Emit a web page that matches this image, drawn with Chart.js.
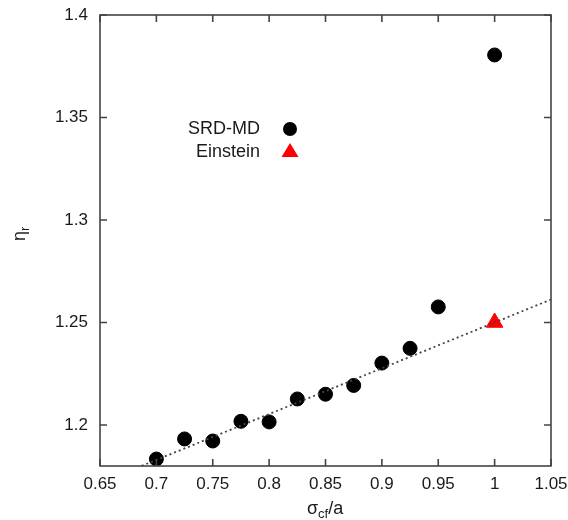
<!DOCTYPE html>
<html>
<head>
<meta charset="utf-8">
<script src="https://cdn.jsdelivr.net/npm/chart.js@4/dist/chart.umd.min.js"></script>
<style>
  html, body { margin: 0; padding: 0; background: #fff; }
  #wrap { width: 568px; height: 520px; }
</style>
</head>
<body>
<div id="wrap"><canvas id="myChart" width="568" height="520"></canvas></div>
<script>
// data
var sigmaRatio = [0.7, 0.725, 0.75, 0.775, 0.8, 0.825, 0.85, 0.875, 0.9, 0.925, 0.95, 1.0];
var etaSRD = [1.1834, 1.1932, 1.1922, 1.2018, 1.2015, 1.2127, 1.2150, 1.2193, 1.2302, 1.2374, 1.2576, 1.3805];
var einsteinX = [1.0];
var einsteinY = [1.25];
// dotted guide line, end points
var guideX = [0.65, 1.05];
var guideY = [1.1718, 1.2612];

var xTicks = [0.65, 0.7, 0.75, 0.8, 0.85, 0.9, 0.95, 1, 1.05];
var xTickLabels = ['0.65', '0.7', '0.75', '0.8', '0.85', '0.9', '0.95', '1', '1.05'];
var yTicks = [1.2, 1.25, 1.3, 1.35, 1.4];
var yTickLabels = ['1.2', '1.25', '1.3', '1.35', '1.4'];

var FONT = '"Liberation Sans", Arial, sans-serif';
var AXIS_COL = '#444';
var TEXT_COL = '#1a1a1a';

function pts(xs, ys) {
	return xs.map(function(x, i) { return { x: x, y: ys[i] }; });
}

// box frame, inward ticks, axis titles with subscripts, legend
var framePlugin = {
	id: 'frame',
	afterDatasetsDraw: function(chart) {
		var c = chart.ctx, a = chart.chartArea;
		var xs = chart.scales.x, ys = chart.scales.y;
		c.save();
		c.strokeStyle = AXIS_COL;
		c.lineWidth = 1.6;
		c.strokeRect(a.left, a.top, a.right - a.left, a.bottom - a.top);
		c.beginPath();
		xTicks.forEach(function(v) {
			var px = xs.getPixelForValue(v);
			c.moveTo(px, a.bottom); c.lineTo(px, a.bottom - 7);
			c.moveTo(px, a.top); c.lineTo(px, a.top + 7);
		});
		yTicks.forEach(function(v) {
			var py = ys.getPixelForValue(v);
			c.moveTo(a.left, py); c.lineTo(a.left + 7, py);
			c.moveTo(a.right, py); c.lineTo(a.right - 7, py);
		});
		c.stroke();

		c.fillStyle = TEXT_COL;
		c.textBaseline = 'alphabetic';
		// x title: sigma_cf / a
		var cx = 307, by = 514;
		c.textAlign = 'left';
		c.font = '18px ' + FONT;
		c.fillText('σ', cx, by);
		var w1 = c.measureText('σ').width;
		c.font = '13px ' + FONT;
		c.fillText('cf', cx + w1, by + 4);
		var w2 = c.measureText('cf').width;
		c.font = '18px ' + FONT;
		c.fillText('/a', cx + w1 + w2, by);

		// y title: eta_r (rotated)
		c.save();
		c.translate(25, 232);
		c.rotate(-Math.PI / 2);
		c.font = '18px ' + FONT;
		c.fillText('η', -9, 0);
		var we = c.measureText('η').width;
		c.font = '13px ' + FONT;
		c.fillText('r', -9 + we, 4);
		c.restore();

		// legend
		c.font = '18px ' + FONT;
		c.textAlign = 'right';
		c.textBaseline = 'middle';
		c.fillText('SRD-MD', 260, 129);
		c.fillText('Einstein', 260, 152);
		c.fillStyle = '#000';
		c.beginPath();
		c.arc(290, 129, 7, 0, Math.PI * 2);
		c.fill();
		c.fillStyle = '#ff0000';
		c.beginPath();
		c.moveTo(290, 143); c.lineTo(298.5, 157); c.lineTo(281.5, 157);
		c.closePath();
		c.fill();
		c.restore();
	}
};

var ctx = document.getElementById('myChart').getContext('2d');
var chart = new Chart(ctx, {
	type: 'scatter',
	data: {
		datasets: [ {
			label: 'guide',
			type: 'line',
			data: pts(guideX, guideY),
			borderColor: '#444',
			borderWidth: 1.8,
			borderDash: [2, 3],
			pointRadius: 0,
			fill: false
		}, {
			label: 'SRD-MD',
			data: pts(sigmaRatio, etaSRD),
			backgroundColor: '#000',
			borderColor: '#000',
			pointRadius: 7,
			pointHoverRadius: 7
		}, {
			label: 'Einstein',
			data: pts(einsteinX, einsteinY),
			backgroundColor: '#ff0000',
			borderColor: '#ff0000',
			pointStyle: 'triangle',
			pointRadius: 9.5,
			pointHoverRadius: 9.5
		} ]
	},
	options: {
		responsive: false,
		animation: false,
		clip: { left: 0, top: 0, right: 0, bottom: 0 },
		layout: { padding: { left: 0, top: 15, right: 17, bottom: 0 } },
		plugins: { legend: { display: false }, tooltip: { enabled: false } },
		scales: {
			x: {
				type: 'linear',
				min: 0.65, max: 1.05,
				grid: { display: false, drawTicks: false },
				border: { display: false },
				afterBuildTicks: function(s) { s.ticks = xTicks.map(function(v) { return { value: v }; }); },
				afterFit: function(s) { s.height = 54; s.paddingLeft = 0; s.paddingRight = 0; },
				ticks: {
					padding: 8,
					color: TEXT_COL,
					font: { family: FONT, size: 17 },
					maxRotation: 0,
					autoSkip: false,
					callback: function(v) { return xTickLabels[xTicks.indexOf(v)]; }
				}
			},
			y: {
				type: 'linear',
				min: 1.18, max: 1.4,
				grid: { display: false, drawTicks: false },
				border: { display: false },
				afterBuildTicks: function(s) { s.ticks = yTicks.map(function(v) { return { value: v }; }); },
				afterFit: function(s) { s.width = 100; s.paddingTop = 0; s.paddingBottom = 0; },
				ticks: {
					padding: 12,
					color: TEXT_COL,
					font: { family: FONT, size: 17 },
					autoSkip: false,
					callback: function(v) { return yTickLabels[yTicks.indexOf(v)]; }
				}
			}
		}
	},
	plugins: [framePlugin]
});
</script>
</body>
</html>
